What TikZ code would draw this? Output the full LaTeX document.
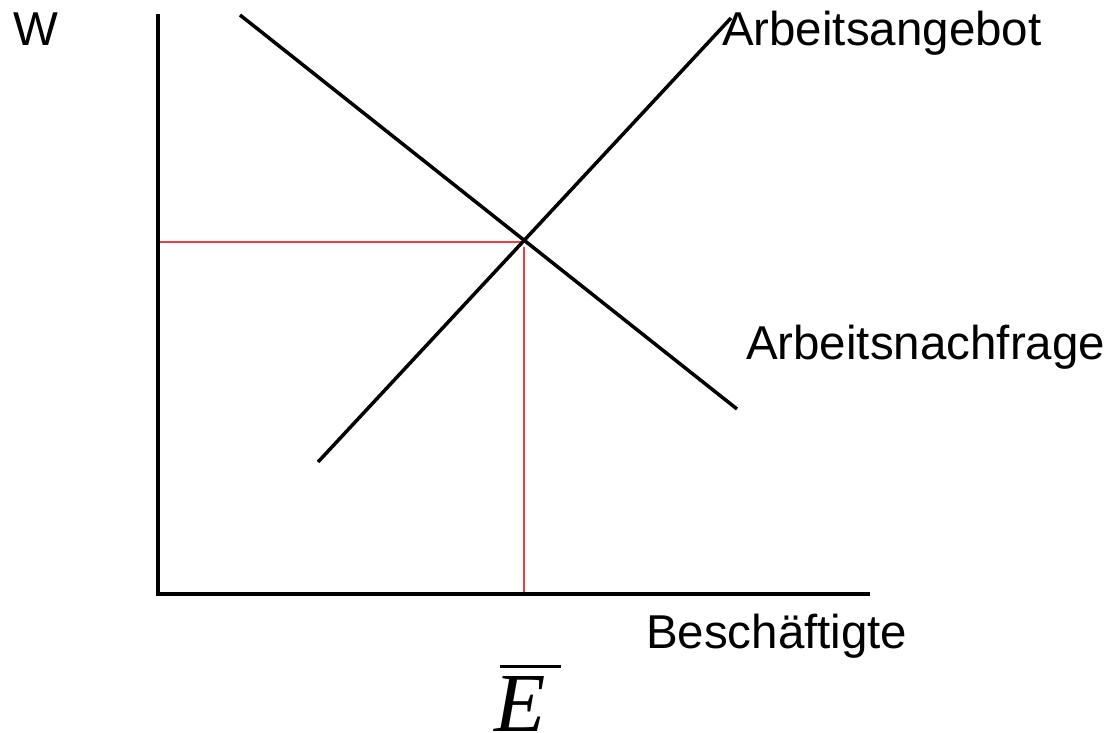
\documentclass[tikz,border=0pt]{standalone}
\usepackage{fontspec}
\setmainfont{Liberation Sans}
\newfontfamily\serifit{Liberation Serif}[Ligatures=TeX]
\begin{document}
\begin{tikzpicture}[x=1pt,y=-1pt,
  lbl/.style={anchor=base west,inner sep=0pt,outer sep=0pt,font=\fontsize{47.5}{50}\selectfont},
  curve/.style={line width=3.5pt,black},
  axisline/.style={line width=3.5pt,black},
  guide/.style={line width=1.8pt,color={rgb,255:red,240;green,60;blue,60}}]
\useasboundingbox (0,0) rectangle (1117,732);
% coordinates
\coordinate (ytop) at (158,16);
\coordinate (origin) at (158,594);
\coordinate (xend) at (868,594);
\coordinate (d1) at (240,15);
\coordinate (d2) at (737,409);
\coordinate (s1) at (318,462);
\coordinate (s2) at (731,18);
\coordinate (eq) at (524,242);
\coordinate (hl) at (160,242);
\coordinate (vb) at (524,594);
\coordinate (vt) at (524,247);
% guides
\draw[guide] (hl) -- (eq);
\draw[guide] (vt) -- (vb);
% axes
\draw[axisline,line cap=rect] (ytop) -- (origin) -- (xend);
% curves
\draw[curve] (d1) -- (d2);
\draw[curve] (s1) -- (s2);
% labels
\node[lbl] (w) at (13,45) {W};
\node[lbl] (angebot) at (722,45) {Arbeitsangebot};
\node[lbl] (nachfrage) at (746,359) {Arbeitsnachfrage};
\node[lbl] (besch) at (646,648) {Beschäftigte};
\node[anchor=base west,inner sep=0pt,outer sep=0pt,font=\fontsize{84}{84}\selectfont] (ebar) at (494,731)
  {\vbox{\offinterlineskip\hbox{\kern 6pt\vrule width 61pt height 3pt depth 0pt}\kern 8pt\hbox{\serifit\itshape E}}};
\end{tikzpicture}
\end{document}
